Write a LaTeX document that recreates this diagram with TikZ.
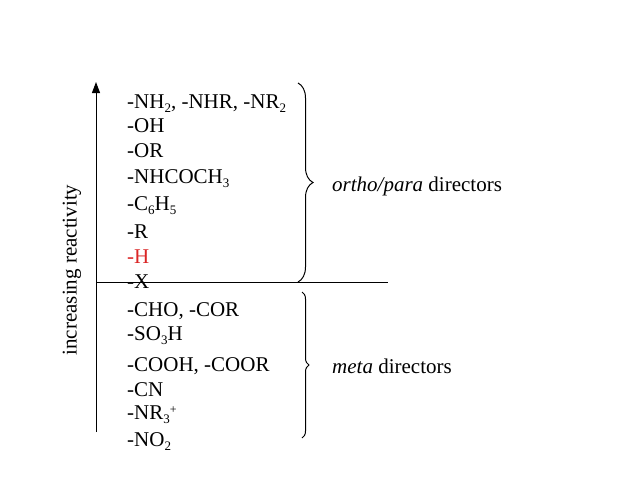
\documentclass[tikz,border=0pt]{standalone}
\usepackage{fontspec}
\setmainfont{Liberation Serif}
\usetikzlibrary{arrows.meta,decorations.pathreplacing}
\definecolor{hred}{RGB}{218,38,38}
\newcommand{\sbs}[1]{\raisebox{-4pt}{\fontsize{13}{13}\selectfont #1}}
\newcommand{\sps}[1]{\raisebox{6pt}{\fontsize{12}{12}\selectfont #1}}
\begin{document}
\begin{tikzpicture}[x=1pt,y=-1pt,
  grp/.style={anchor=base west,inner sep=0pt,font=\fontsize{21}{25}\selectfont},
  lbl/.style={anchor=west,inner sep=0pt,font=\fontsize{21}{25}\selectfont},
  axis/.style={line width=1pt,black},
  brc/.style={line width=1pt,decorate,decoration={brace,amplitude=#1}}]
\useasboundingbox (0,0) rectangle (638,479);
\coordinate (abot) at (96,432);
\coordinate (atop) at (96,82);
\coordinate (hl) at (96,282);
\coordinate (hr) at (388,282);
\draw[axis,-{Triangle[width=8pt,length=11pt]}] (abot) -- (atop);
\draw[axis] (hl) -- (hr);
\node[grp] (g1) at (127,108) {-NH\sbs{2}, -NHR, -NR\sbs{2}};
\node[grp] (g2) at (127,132) {-OH};
\node[grp] (g3) at (127,157) {-OR};
\node[grp] (g4) at (127,183) {-NHCOCH\sbs{3}};
\node[grp] (g5) at (127,210) {-C\sbs{6}H\sbs{5}};
\node[grp] (g6) at (127,238) {-R};
\node[grp,text=hred] (g7) at (127,263) {-H};
\node[grp] (g8) at (127,288) {-X};
\node[grp] (g9) at (127,316) {-CHO, -COR};
\node[grp] (g10) at (127,340) {-SO\sbs{3}H};
\node[grp] (g11) at (127,371) {-COOH, -COOR};
\node[grp] (g12) at (127,396) {-CN};
\node[grp] (g13) at (127,419) {-NR\sbs{3}\sps{+}};
\node[grp] (g14) at (127,446) {-NO\sbs{2}};
\coordinate (b1t) at (298,83);
\coordinate (b1b) at (298,282);
\coordinate (b2t) at (302,292);
\coordinate (b2b) at (302,438);
\draw[brc=15pt] (b1t) -- (b1b);
\draw[brc=7pt] (b2t) -- (b2b);
\node[lbl] (op) at (332,186) {\textit{ortho/para} directors};
\node[lbl] (mt) at (332,366) {\textit{meta} directors};
\node[lbl,anchor=center,rotate=90] (ir) at (72,270) {increasing reactivity};
\end{tikzpicture}
\end{document}
